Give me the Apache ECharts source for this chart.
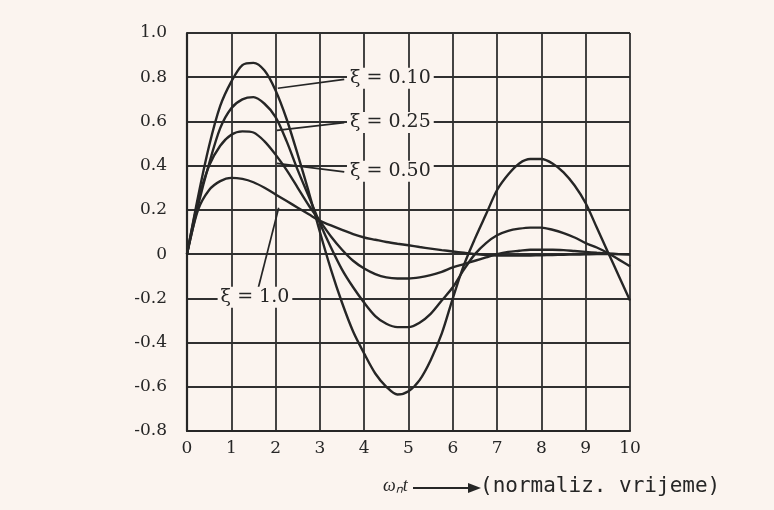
<!DOCTYPE html>
<html><head><meta charset="utf-8">
<script src="https://cdn.jsdelivr.net/npm/echarts@6/dist/echarts.min.js"></script>
<style>html,body{margin:0;padding:0;background:#fbf4ef}#c{width:774px;height:510px}</style>
</head><body><div id="c"></div>
<script>
// normalized time ωt
const tValues = [0,0.25,0.5,0.75,1,1.25,1.5,1.75,2,2.25,2.5,2.75,3,3.25,3.5,3.75,4,4.25,4.5,4.75,5,5.25,5.5,5.75,6,6.25,6.5,6.75,7,7.25,7.5,7.75,8,8.25,8.5,8.75,9,9.25,9.5,9.75,10];
// responses
const zeta010 = [0,0.26,0.49,0.67,0.78,0.855,0.865,0.83,0.74,0.61,0.45,0.28,0.10,-0.07,-0.22,-0.35,-0.45,-0.54,-0.60,-0.635,-0.62,-0.57,-0.48,-0.36,-0.20,-0.05,0.07,0.18,0.29,0.36,0.41,0.43,0.43,0.41,0.37,0.31,0.23,0.12,0.01,-0.10,-0.21];
const zeta025 = [0,0.22,0.41,0.57,0.66,0.70,0.71,0.68,0.62,0.51,0.38,0.26,0.14,0.03,-0.07,-0.15,-0.22,-0.28,-0.315,-0.33,-0.33,-0.31,-0.27,-0.21,-0.15,-0.07,0.0,0.05,0.085,0.105,0.115,0.12,0.12,0.11,0.095,0.075,0.05,0.03,0.005,-0.025,-0.055];
const zeta050 = [0,0.24,0.40,0.49,0.54,0.555,0.55,0.51,0.45,0.38,0.30,0.22,0.15,0.08,0.02,-0.03,-0.065,-0.09,-0.105,-0.11,-0.11,-0.105,-0.095,-0.08,-0.06,-0.045,-0.03,-0.015,0.0,0.01,0.015,0.02,0.02,0.02,0.018,0.014,0.01,0.006,0.003,0.0,-0.002];
const zeta100 = [0,0.20,0.29,0.33,0.345,0.34,0.325,0.30,0.27,0.24,0.21,0.18,0.15,0.13,0.11,0.09,0.075,0.065,0.055,0.047,0.04,0.032,0.025,0.018,0.012,0.006,0.0,-0.004,-0.006,-0.007,-0.007,-0.006,-0.005,-0.004,-0.003,-0.002,-0.001,0,0,0,0];
const seriesNames = ['ξ = 0.10','ξ = 0.25','ξ = 0.50','ξ = 1.0'];
const xTickLabels = ['0','1','2','3','4','5','6','7','8','9','10'];
const yTickLabels = {'1':'1.0','0.8':'0.8','0.6':'0.6','0.4':'0.4','0.2':'0.2','0':'0','-0.2':'-0.2','-0.4':'-0.4','-0.6':'-0.6','-0.8':'-0.8'};

// annotation placement (data coordinates)
const labelAnchors = [[3.6,0.795],[3.6,0.595],[3.6,0.375],[0.68,-0.195]];
const leaderLines = [
  [[2.05,0.75],[3.55,0.79]],
  [[2.03,0.56],[3.55,0.595]],
  [[2.03,0.41],[3.55,0.372]],
  [[1.6,-0.16],[2.07,0.21]]
];

const BG = '#fbf4ef';
const INK = '#262626';
const FONT = '"DejaVu Serif"';
const chart = echarts.init(document.getElementById('c'));
const allSeries = [zeta010, zeta025, zeta050, zeta100];
const pairs = arr => tValues.map((t,i)=>[t,arr[i]]);

const series = allSeries.map((arr,k)=>({
  name: seriesNames[k],
  type: 'line',
  data: pairs(arr),
  smooth: 0.3,
  showSymbol: false,
  symbol: 'none',
  lineStyle: {color: INK, width: 2.4},
  z: 3,
  markLine: {
    silent: true, symbol: ['none','none'],
    lineStyle: {color: INK, width: 1.7, type: 'solid'},
    label: {show: false},
    data: [[{coord: leaderLines[k][0]}, {coord: leaderLines[k][1]}]]
  },
  markPoint: {
    silent: true,
    symbol: 'rect', symbolSize: [1,1],
    itemStyle: {color: 'rgba(0,0,0,0)'},
    label: {
      show: true, position: 'right', distance: 0,
      formatter: seriesNames[k],
      color: INK, fontFamily: FONT, fontSize: 19,
      backgroundColor: BG, padding: [1,3]
    },
    data: [{coord: labelAnchors[k]}]
  }
}));

chart.setOption({
  backgroundColor: BG,
  animation: false,
  grid: {left: 187, right: 144, top: 33, bottom: 79, show: false},
  xAxis: {
    type: 'value', min: 0, max: 10, interval: 1,
    axisLine: {show: true, onZero: false, lineStyle: {color: INK, width: 2.2}},
    axisTick: {show: false},
    splitLine: {show: true, lineStyle: {color: '#303030', width: 1.8}},
    axisLabel: {margin: 9, color: INK, fontFamily: FONT, fontSize: 17,
      formatter: v => xTickLabels[Math.round(v)]}
  },
  yAxis: {
    type: 'value', min: -0.8, max: 1.0, interval: 0.2,
    axisLine: {show: true, onZero: false, lineStyle: {color: INK, width: 2.2}},
    axisTick: {show: false},
    splitLine: {show: true, lineStyle: {color: '#303030', width: 1.8}},
    axisLabel: {margin: 20, color: INK, fontFamily: FONT, fontSize: 17,
      formatter: v => yTickLabels[String(Math.round(v*10)/10)]}
  },
  graphic: [
    {type: 'text', left: 383, top: 477, style: {text: 'ωₙt', fill: INK, font: 'italic 18px "Liberation Serif"'}},
    {type: 'line', shape: {x1: 413, y1: 488, x2: 470, y2: 488}, style: {stroke: INK, lineWidth: 2}},
    {type: 'polygon', shape: {points: [[468,483],[481,488],[468,493]]}, style: {fill: INK}},
    {type: 'text', left: 480, top: 476, style: {text: '(normaliz. vrijeme)', fill: INK, font: '21px "DejaVu Sans Mono"'}}
  ],
  series: series
});
</script></body></html>
